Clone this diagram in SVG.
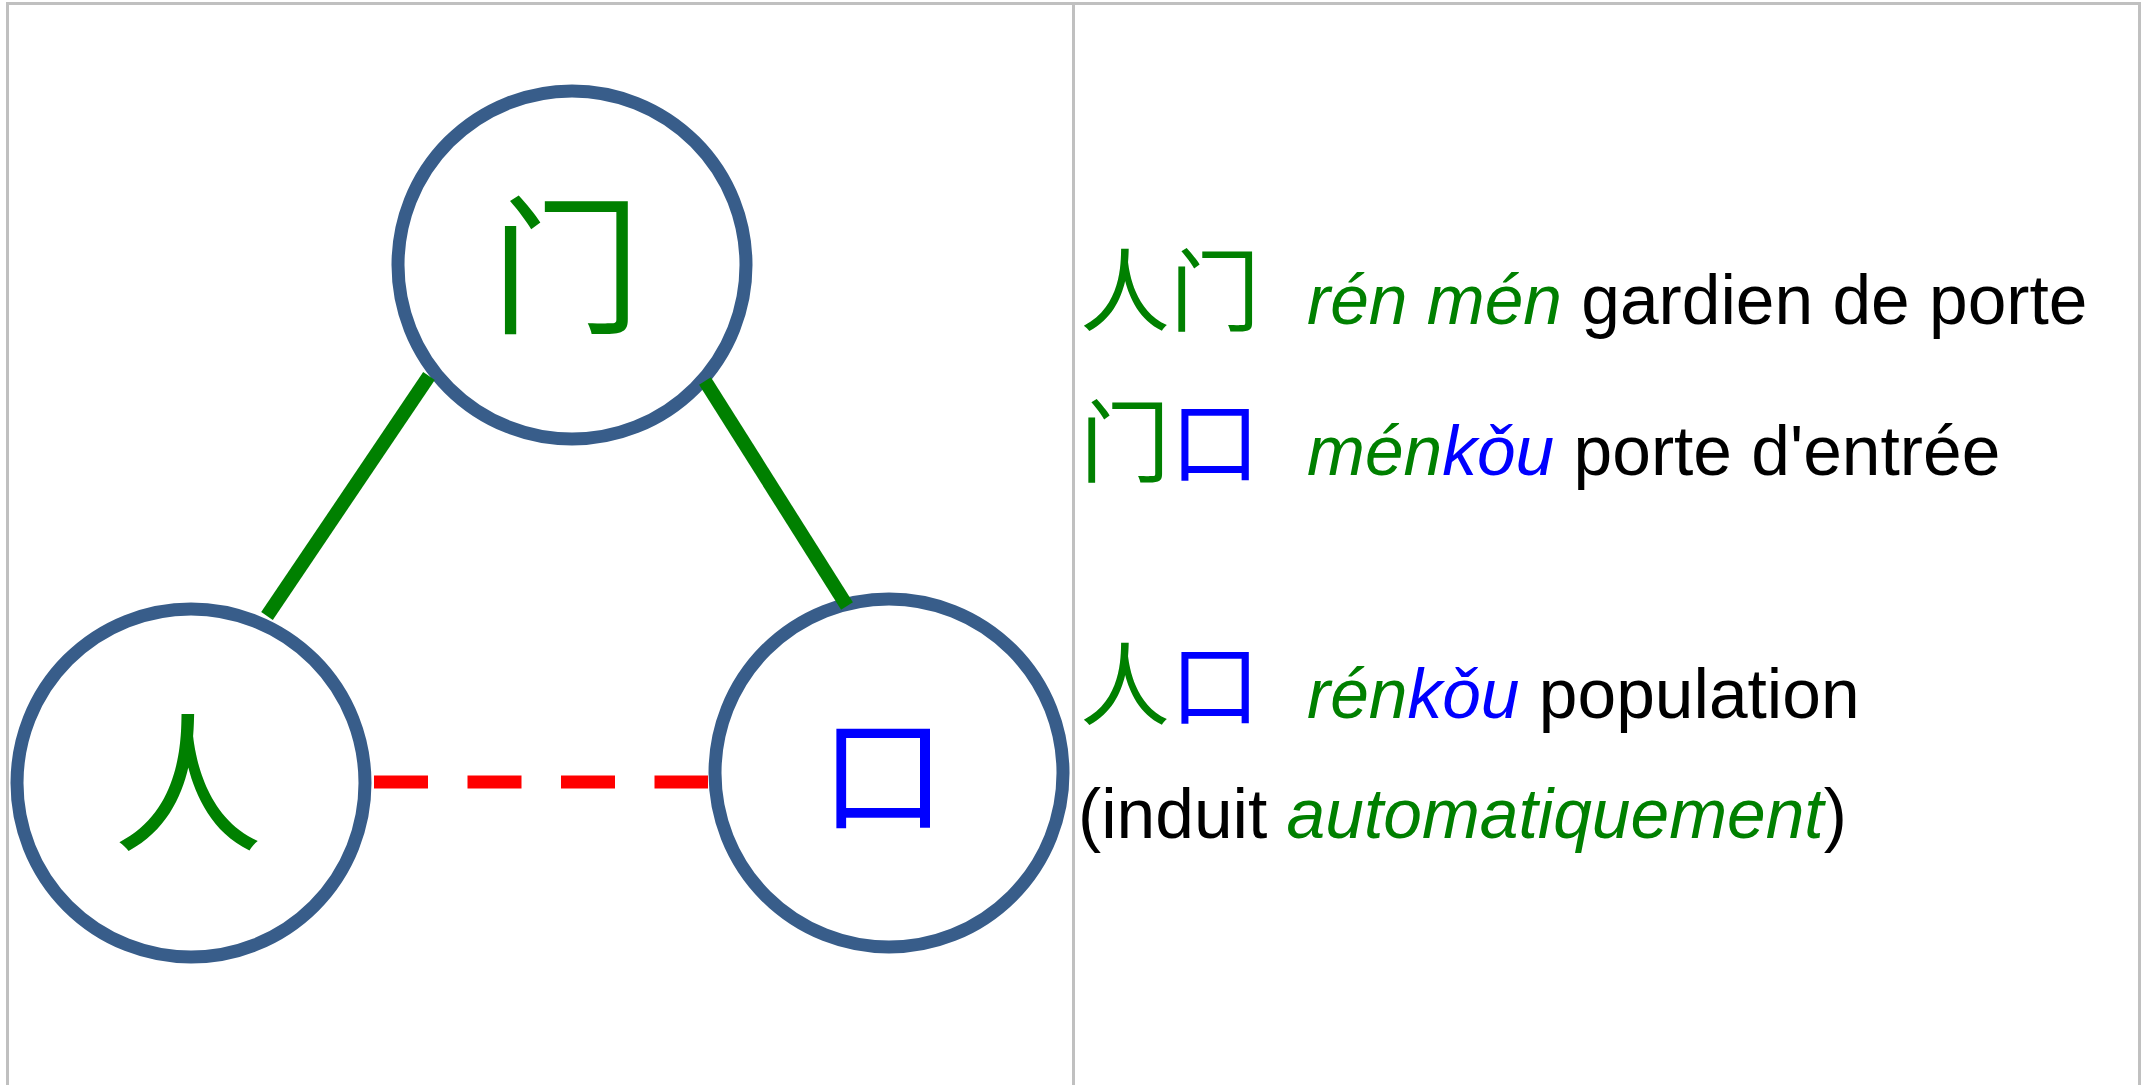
<svg xmlns="http://www.w3.org/2000/svg" width="2145" height="1085" viewBox="0 0 2145 1085">
<style>
.frame{fill:none;stroke:#c0c0c0;stroke-width:3}
.node{fill:#ffffff;stroke:#385d8a;stroke-width:13}
.hz{font-family:"Noto Sans CJK SC","Noto Sans CJK TC",sans-serif;text-anchor:middle}
.g{fill:#008000}
.b{fill:#0000ff}
.txt{font-family:"Liberation Sans",Arial,sans-serif;font-size:69.5px;fill:#000000}
.it{font-style:italic}
.cjk{font-family:"Noto Sans CJK SC","Noto Sans CJK TC",sans-serif;font-size:90px}
.solid{stroke:#008000;stroke-width:14;fill:none}
.dash{stroke:#ff0000;stroke-width:13;fill:none;stroke-dasharray:54 39.5}
</style>
<rect x="0" y="0" width="2145" height="1085" fill="#ffffff"/>
<path class="frame" d="M7.5,1090 V3.5 H2139.5 V1090 M1073.5,3.5 V1090"/>
<g id="node-men">
<circle class="node" cx="572" cy="265" r="174"/>
<text class="hz g" x="566" y="322" font-size="150">门</text>
</g>
<g id="node-ren">
<circle class="node" cx="191" cy="783" r="174"/>
<text class="hz g" x="188" y="840" font-size="150">人</text>
</g>
<g id="node-kou">
<circle class="node" cx="889" cy="773" r="174"/>
<text class="hz b" x="883" y="821" font-size="125">口</text>
</g>
<g id="connectors">
<line class="solid" x1="429" y1="376" x2="267" y2="616"/>
<line class="solid" x1="705" y1="381" x2="847" y2="606"/>
<line class="dash" x1="374" y1="782" x2="708" y2="782"/>
</g>
<g id="legend">
<text class="cjk" y="324"><tspan class="g" x="1080">人门</tspan></text>
<text class="txt" x="1307" y="324"><tspan class="it g">rén mén</tspan> gardien de porte</text>
<text class="cjk" y="475"><tspan class="g" x="1080">门</tspan><tspan class="b">口</tspan></text>
<text class="txt" x="1307" y="475"><tspan class="it g">mén</tspan><tspan class="it b">kǒu</tspan> porte d'entrée</text>
<text class="cjk" y="718"><tspan class="g" x="1080">人</tspan><tspan class="b">口</tspan></text>
<text class="txt" x="1307" y="718"><tspan class="it g">rén</tspan><tspan class="it b">kǒu</tspan> population</text>
<text class="txt" x="1078" y="838">(induit <tspan class="it g">automatiquement</tspan>)</text>
</g>
</svg>
